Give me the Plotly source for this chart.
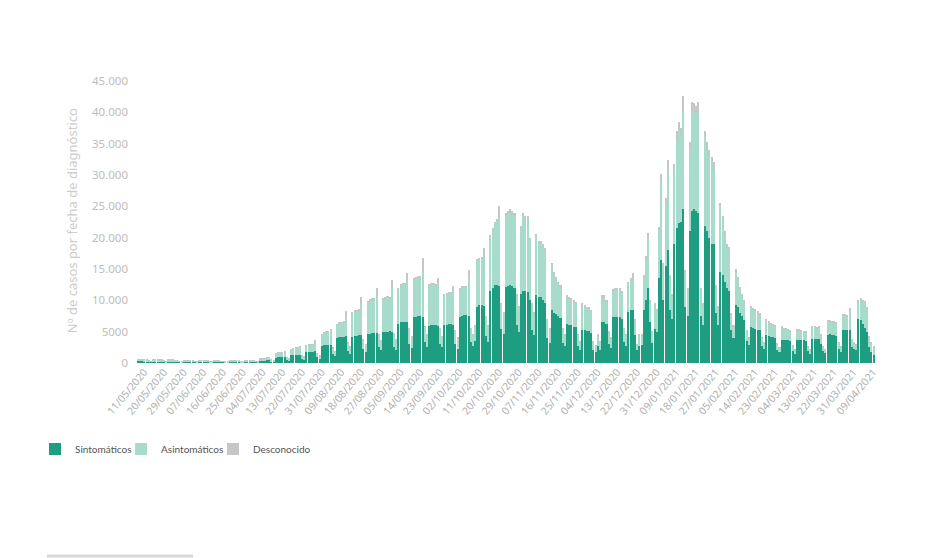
import pandas as pd
import plotly.graph_objects as go

# Daily cases by diagnosis date, weeks Mon..Sun starting 11/05/2020 (last value = 12/04/2021)
sintomaticos = [
    340, 330, 320, 310, 300, 210, 170,
    310, 300, 290, 280, 270, 190, 150,
    290, 280, 270, 260, 250, 170, 140,
    260, 250, 240, 240, 220, 160, 120,
    210, 200, 200, 190, 180, 120, 100,
    180, 180, 180, 170, 170, 110, 90,
    190, 190, 190, 180, 180, 120, 100,
    230, 240, 240, 250, 250, 170, 130,
    360, 380, 410, 440, 490, 280, 220,
    850, 900, 950, 1000, 1000, 500, 400,
    1200, 1250, 1300, 1300, 1350, 650, 550,
    1700, 1750, 1800, 1800, 1900, 900, 700,
    2700, 2800, 2850, 2900, 2950, 1400, 1100,
    4000, 4100, 4200, 4200, 4300, 1900, 1500,
    4200, 4300, 4300, 4400, 4500, 2200, 1700,
    4600, 4700, 4750, 4800, 4800, 2500, 2000,
    4900, 5000, 5000, 5100, 5000, 2600, 2100,
    6300, 6500, 6550, 6600, 6500, 3100, 2400,
    7300, 7400, 7450, 7500, 7300, 3300, 2600,
    5900, 6000, 6000, 6000, 5900, 3100, 2500,
    6000, 6100, 6200, 6200, 6100, 3000, 2300,
    7400, 7500, 7600, 7600, 7500, 3300, 2700,
    3500, 9000, 9200, 9200, 9100, 4300, 3400,
    11500, 12000, 12400, 12400, 12300, 5500, 4600,
    12200, 12300, 12400, 12300, 12000, 6000, 5000,
    11000, 11500, 11500, 11400, 10000, 5200, 4500,
    10800, 10500, 10500, 10000, 9600, 4000, 3200,
    8400, 8000, 7800, 7500, 7200, 3200, 2700,
    6200, 6000, 6000, 5800, 5700, 2700, 2100,
    5300, 5200, 5100, 5100, 4800, 2100, 1700,
    2700, 2100, 6600, 6600, 6200, 3000, 2400,
    7300, 7400, 7400, 7300, 7000, 3300, 2700,
    8200, 8400, 8400, 4500, 2000, 2700, 2800,
    8500, 10000, 12000, 6500, 3200, 5500, 5000,
    13500, 16500, 10000, 15500, 18000, 8500, 7000,
    19000, 21500, 22300, 22500, 24600, 9000, 7500,
    21000, 24300, 24500, 24300, 24000, 7500, 6000,
    21900, 21000, 20000, 19000, 19000, 8000, 6000,
    14500, 14000, 13000, 12000, 11500, 5200, 4000,
    9200, 9000, 8000, 7500, 6800, 3500, 2800,
    5800, 5600, 5500, 5300, 5200, 2700, 2200,
    4400, 4300, 4200, 4100, 4000, 2100, 1700,
    3700, 3700, 3600, 3600, 3500, 1900, 1500,
    3700, 3700, 3600, 3600, 3500, 1900, 1500,
    3900, 3900, 3800, 3900, 3000, 1900, 1600,
    4500, 4600, 4500, 4400, 4300, 2300, 1800,
    5300, 5200, 5200, 5300, 2600, 2200, 2000,
    7000, 6800, 6200, 5600, 5000, 2600, 1800,
    1200,
]

asintomaticos = [
    250, 240, 230, 220, 210, 150, 110,
    220, 210, 200, 190, 180, 120, 100,
    200, 190, 190, 180, 170, 110, 90,
    180, 170, 170, 160, 150, 100, 80,
    140, 140, 130, 130, 120, 80, 60,
    120, 110, 110, 110, 100, 70, 60,
    130, 120, 120, 120, 110, 80, 60,
    160, 160, 170, 170, 180, 110, 90,
    260, 290, 310, 330, 370, 200, 160,
    600, 650, 700, 700, 750, 370, 280,
    950, 1000, 1050, 1100, 1150, 520, 420,
    1050, 1100, 1100, 1150, 1450, 560, 470,
    1800, 2000, 2050, 2100, 2250, 950, 750,
    2100, 2200, 2200, 2300, 3000, 1250, 1050,
    3650, 3850, 3950, 3950, 5000, 1550, 1250,
    5000, 5200, 5350, 5400, 6100, 1950, 1550,
    5200, 5300, 5400, 5200, 7000, 2050, 1650,
    5500, 5800, 5950, 6000, 6850, 2330, 1850,
    6000, 6100, 6150, 6200, 7400, 2430, 1850,
    6400, 6500, 6500, 6400, 6800, 2330, 1750,
    4800, 4900, 4900, 4900, 5450, 2130, 1650,
    4400, 4500, 4450, 4500, 6300, 2130, 1750,
    2400, 7300, 7300, 7400, 8200, 3100, 2500,
    8700, 9200, 9800, 10300, 11000, 3850, 3300,
    11300, 11500, 11600, 11500, 11400, 4800, 3850,
    10400, 11900, 11500, 11600, 9500, 4150, 3350,
    9300, 8600, 8600, 8600, 8300, 2900, 2200,
    7100, 6200, 5700, 5200, 4900, 2200, 1700,
    4300, 4200, 4000, 3900, 3800, 1700, 1300,
    3900, 3800, 3600, 3600, 3400, 1300, 1000,
    1700, 1300, 3900, 3900, 3500, 1900, 1500,
    4200, 4300, 4300, 4300, 4200, 2100, 1700,
    4500, 4800, 5000, 2300, 900, 1700, 1600,
    5100, 6500, 7700, 3200, 1700, 3700, 3300,
    7600, 12500, 5600, 10100, 12900, 5200, 3700,
    12000, 14300, 14900, 13800, 15500, 5400, 4200,
    13200, 15900, 15500, 15200, 16100, 4200, 3200,
    14100, 13300, 13100, 12900, 11800, 4200, 2800,
    10400, 8900, 7400, 6500, 6500, 2600, 1850,
    5400, 4500, 3900, 3200, 2900, 1600, 1100,
    3000, 2900, 2800, 2700, 2600, 1200, 900,
    2400, 2100, 2000, 1900, 1800, 900, 700,
    1900, 1700, 1700, 1600, 1600, 800, 600,
    1450, 1450, 1450, 1350, 1350, 720, 520,
    1850, 1750, 1750, 1750, 1350, 720, 520,
    2100, 2100, 2000, 2000, 2000, 900, 700,
    2300, 2300, 2200, 2800, 1100, 900, 900,
    2700, 3200, 3600, 4000, 3700, 1500, 1300,
    1300,
]

desconocido = [
    30, 30, 30, 30, 30, 20, 20,
    30, 30, 30, 30, 30, 20, 20,
    30, 30, 30, 30, 30, 20, 20,
    30, 30, 30, 30, 30, 20, 20,
    30, 30, 30, 30, 30, 20, 20,
    30, 30, 30, 30, 30, 20, 20,
    30, 30, 30, 30, 30, 20, 20,
    30, 30, 30, 30, 30, 20, 20,
    30, 30, 30, 30, 40, 20, 20,
    50, 50, 50, 50, 150, 30, 20,
    50, 50, 50, 50, 100, 30, 30,
    50, 50, 50, 50, 300, 40, 30,
    100, 100, 100, 100, 300, 50, 50,
    100, 100, 100, 100, 950, 50, 50,
    150, 150, 150, 150, 1000, 50, 50,
    200, 200, 200, 200, 1000, 50, 50,
    200, 200, 200, 200, 1200, 50, 50,
    200, 200, 200, 200, 1000, 70, 50,
    200, 200, 200, 200, 2000, 70, 50,
    200, 200, 200, 200, 800, 70, 50,
    200, 200, 200, 200, 700, 70, 50,
    200, 200, 200, 200, 1000, 70, 50,
    100, 200, 200, 200, 1000, 100, 100,
    300, 300, 300, 300, 1700, 150, 100,
    500, 500, 500, 500, 600, 200, 150,
    500, 600, 500, 500, 500, 150, 150,
    500, 400, 400, 400, 400, 100, 100,
    400, 300, 300, 300, 300, 100, 100,
    300, 300, 300, 300, 300, 100, 100,
    300, 300, 300, 300, 300, 100, 100,
    100, 100, 300, 300, 300, 100, 100,
    300, 300, 300, 300, 300, 100, 100,
    300, 300, 900, 200, 100, 100, 100,
    400, 500, 1000, 300, 100, 300, 200,
    600, 1200, 400, 800, 1500, 300, 300,
    800, 1200, 1200, 1200, 2500, 400, 300,
    1000, 1500, 1500, 1500, 1600, 300, 300,
    1000, 1000, 900, 900, 1200, 300, 200,
    700, 600, 600, 500, 500, 200, 150,
    400, 300, 300, 300, 300, 100, 100,
    200, 200, 200, 200, 200, 100, 100,
    200, 200, 200, 200, 200, 100, 100,
    200, 200, 200, 200, 200, 100, 100,
    150, 150, 150, 150, 150, 80, 80,
    150, 150, 150, 150, 150, 80, 80,
    200, 200, 200, 200, 200, 100, 100,
    200, 200, 200, 600, 100, 100, 100,
    300, 300, 300, 300, 300, 100, 100,
    100,
]

start_date = "2020-05-11"
x_tick_labels = [
    "11/05/2020", "20/05/2020", "29/05/2020", "07/06/2020", "16/06/2020", "25/06/2020",
    "04/07/2020", "13/07/2020", "22/07/2020", "31/07/2020", "09/08/2020", "18/08/2020",
    "27/08/2020", "05/09/2020", "14/09/2020", "23/09/2020", "02/10/2020", "11/10/2020",
    "20/10/2020", "29/10/2020", "07/11/2020", "16/11/2020", "25/11/2020", "04/12/2020",
    "13/12/2020", "22/12/2020", "31/12/2020", "09/01/2021", "18/01/2021", "27/01/2021",
    "05/02/2021", "14/02/2021", "23/02/2021", "04/03/2021", "13/03/2021", "22/03/2021",
    "31/03/2021", "09/04/2021",
]
y_tick_values = [0, 5000, 10000, 15000, 20000, 25000, 30000, 35000, 40000, 45000]
y_tick_labels = ["0", "5000", "10.000", "15.000", "20.000", "25.000", "30.000", "35.000", "40.000", "45.000"]

dates = pd.date_range(start_date, periods=len(sintomaticos), freq="D")
tick_dates = pd.to_datetime(x_tick_labels, format="%d/%m/%Y")

fig = go.Figure()
fig.add_trace(go.Bar(x=dates, y=sintomaticos, name="Sintomáticos", legend="legend",
                     marker=dict(color="#1f9d80", opacity=0.999, line=dict(width=0))))
fig.add_trace(go.Bar(x=dates, y=asintomaticos, name="Asintomáticos", legend="legend2",
                     marker=dict(color="#a7dccd", opacity=0.999, line=dict(width=0))))
fig.add_trace(go.Bar(x=dates, y=desconocido, name="Desconocido", legend="legend3",
                     marker=dict(color="#c6c6c6", opacity=0.999, line=dict(width=0))))

legend_font = dict(family="Lato, Noto Sans, sans-serif", size=10, color="#555555")
legend_common = dict(orientation="h", y=-0.305, xanchor="left", yanchor="middle",
                     font=legend_font, itemwidth=30, bgcolor="rgba(0,0,0,0)")

fig.update_layout(
    barmode="stack",
    bargap=0.3,
    width=932,
    height=550,
    margin=dict(l=129, r=65, t=73, b=195),
    paper_bgcolor="white",
    plot_bgcolor="white",
    font=dict(family="Noto Sans, Open Sans, sans-serif", color="#999999"),
    showlegend=True,
    legend=dict(x=-0.1382, **legend_common),
    legend2=dict(x=-0.0216, **legend_common),
    legend3=dict(x=0.1030, **legend_common),
)
fig.update_xaxes(
    type="date",
    range=[dates[0] - pd.Timedelta(hours=12), dates[-1] + pd.Timedelta(hours=12)],
    tickvals=tick_dates,
    ticktext=x_tick_labels,
    tickangle=-50,
    ticklabelshift=6,
    tickfont=dict(size=10.5, color="#b0b0b0"),
    showgrid=False, showline=False, zeroline=False, ticks="",
)
fig.update_yaxes(
    range=[0, 45000],
    tickvals=y_tick_values,
    ticktext=y_tick_labels,
    tickfont=dict(size=11.5, color="#bdbdbd"),
    showgrid=False, showline=False, zeroline=False, ticks="",
    ticklabelstandoff=8,
)
fig.add_annotation(
    text="Nº de casos por fecha de diagnóstico",
    xref="paper", yref="paper", x=-0.088, y=0.503,
    xanchor="center", yanchor="middle", textangle=-90, showarrow=False,
    font=dict(size=13, color="#cccccc"),
)
fig.add_shape(type="line", xref="paper", yref="paper",
              x0=-0.122, x1=0.076, y0=-0.684, y1=-0.684,
              line=dict(color="#d8d8d8", width=3))

fig.write_html("out.html")
